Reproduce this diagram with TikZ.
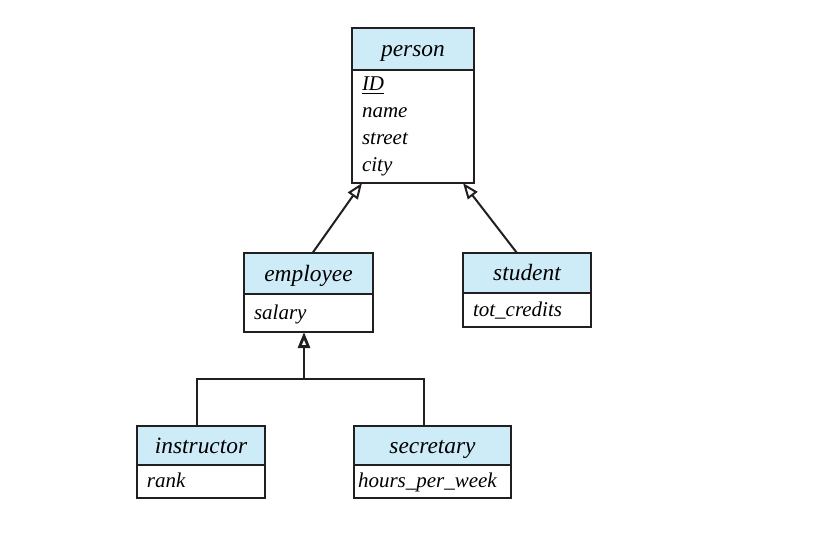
\documentclass[tikz,border=0pt]{standalone}
\usepackage{fontspec}
\setmainfont{Liberation Serif}
\usepackage{tikz}
\usetikzlibrary{arrows.meta,positioning}
\begin{document}
\begin{tikzpicture}[x=0.5pt,y=-0.5pt]
	
	\definecolor{headblue}{RGB}{206,236,248}
	\definecolor{linegray}{RGB}{35,31,32}
	
	\useasboundingbox (0,0) rectangle (832,537);
	
	\tikzset{classhead/.style = {draw=linegray,fill=headblue,line width=1pt,anchor=north,inner sep=0pt,outer sep=0pt,text height=9.7pt,text depth=2pt,font=\fontsize{11.7}{14}\selectfont\itshape}}
	\tikzset{classattr/.style = {draw=linegray,fill=white,line width=1pt,inner xsep=5pt,inner ysep=0pt,outer sep=0pt,align=left,font=\fontsize{10.5}{13.5}\selectfont\itshape}}
	\tikzset{attrline/.style = {text height=8pt,text depth=1.8pt}}
	\tikzset{isa/.style = {draw=linegray,line width=1pt,-{Triangle[fill=white,length=8pt,width=6pt]}}}
	\tikzset{edge/.style = {draw=linegray,line width=1pt}}
	
	\node[classhead,minimum width=61pt,minimum height=21pt] (person) at (413,28) {person};
	\node[classattr,text width=51pt,minimum height=56.5pt,below=0pt of person] (personattr) {\underline{ID}\\ name\\ street\\ city};
	
	\node[classhead,minimum width=64.5pt,minimum height=20.5pt] (employee) at (308.5,253) {employee};
	\node[classattr,attrline,text width=54.5pt,minimum height=19pt,below=0pt of employee] (employeeattr) {salary};
	
	\node[classhead,minimum width=64pt,minimum height=20pt] (student) at (527,253) {student};
	\node[classattr,attrline,text width=54pt,minimum height=17pt,below=0pt of student] (studentattr) {tot\_credits};
	
	\node[classhead,minimum width=64pt,minimum height=19.5pt] (instructor) at (201,426) {instructor};
	\node[classattr,attrline,text width=54pt,minimum height=16.5pt,below=0pt of instructor] (instructorattr) {rank};
	
	\node[classhead,minimum width=78.5pt,minimum height=19.5pt] (secretary) at (432.5,426) {secretary};
	\node[classattr,attrline,inner xsep=2pt,text width=74.5pt,minimum height=16.5pt,below=0pt of secretary] (secretaryattr) {hours\_per\_week};
	
	\draw[isa] ([xshift=2pt]employee.north) -- ([xshift=5pt]personattr.south west);
	\draw[isa] ([xshift=-5pt]student.north) -- ([xshift=-5.5pt]personattr.south east);
	
	\coordinate (split) at (304,379);
	\draw[isa,line width=1.4pt] (split) -- (split |- employeeattr.south);
	\draw[edge] ([xshift=-2pt]instructor.north) |- (split) -| ([xshift=-4.25pt]secretary.north);
	
\end{tikzpicture}
\end{document}
